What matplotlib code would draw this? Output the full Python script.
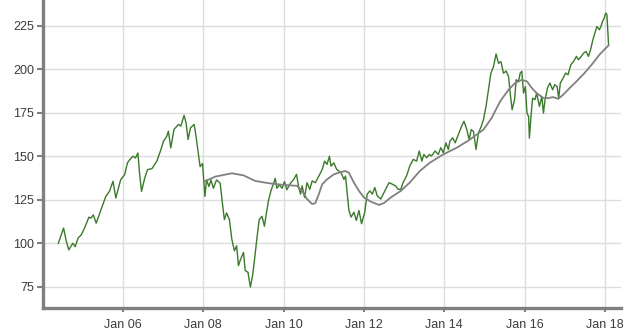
import datetime as dt
import matplotlib
matplotlib.use("Agg")
import matplotlib.pyplot as plt
import matplotlib.dates as mdates

# price series (decimal year, value)
price_t = [2004.39, 2004.52, 2004.59, 2004.65, 2004.75, 2004.81, 2004.88, 2004.96,
           2005.04, 2005.15, 2005.20, 2005.26, 2005.33, 2005.45, 2005.57, 2005.66,
           2005.75, 2005.82, 2005.94, 2006.04, 2006.11, 2006.17, 2006.25, 2006.31,
           2006.37, 2006.41, 2006.46, 2006.54, 2006.61, 2006.72, 2006.84, 2006.93,
           2007.01, 2007.09, 2007.13, 2007.19, 2007.27, 2007.38, 2007.44, 2007.52,
           2007.57, 2007.62, 2007.68, 2007.77, 2007.80, 2007.875, 2007.92, 2007.98,
           2008.04, 2008.08, 2008.14, 2008.19, 2008.25, 2008.33, 2008.42, 2008.475,
           2008.525, 2008.58, 2008.65, 2008.71, 2008.775, 2008.83, 2008.875, 2008.93,
           2009.00, 2009.04, 2009.11, 2009.17, 2009.225, 2009.275, 2009.33, 2009.39,
           2009.46, 2009.52, 2009.57, 2009.625, 2009.69, 2009.75, 2009.79, 2009.83,
           2009.89, 2009.96, 2010.02, 2010.08, 2010.15, 2010.25, 2010.32, 2010.375,
           2010.42, 2010.46, 2010.52, 2010.58, 2010.65, 2010.71, 2010.79, 2010.875,
           2010.96, 2011.02, 2011.08, 2011.14, 2011.18, 2011.25, 2011.32, 2011.375,
           2011.43, 2011.50, 2011.54, 2011.58, 2011.625, 2011.68, 2011.75, 2011.81,
           2011.875, 2011.94, 2012.02, 2012.08, 2012.15, 2012.21, 2012.27, 2012.33,
           2012.42, 2012.50, 2012.54, 2012.625, 2012.71, 2012.79, 2012.85, 2012.92,
           2012.975, 2013.06, 2013.14, 2013.225, 2013.31, 2013.375, 2013.44, 2013.49,
           2013.56, 2013.625, 2013.68, 2013.77, 2013.85, 2013.91, 2013.975, 2014.04,
           2014.10, 2014.14, 2014.21, 2014.27, 2014.35, 2014.43, 2014.49, 2014.56,
           2014.62, 2014.67, 2014.725, 2014.79, 2014.85, 2014.92, 2014.975, 2015.04,
           2015.10, 2015.16, 2015.225, 2015.29, 2015.35, 2015.41, 2015.475, 2015.54,
           2015.60, 2015.65, 2015.69, 2015.75, 2015.79, 2015.85, 2015.89, 2015.93,
           2015.975, 2016.02, 2016.06, 2016.10, 2016.12, 2016.16, 2016.20, 2016.26,
           2016.30, 2016.37, 2016.43, 2016.47, 2016.51, 2016.57, 2016.63, 2016.70,
           2016.75, 2016.81, 2016.85, 2016.89, 2016.96, 2017.02, 2017.08, 2017.15,
           2017.22, 2017.29, 2017.34, 2017.41, 2017.47, 2017.53, 2017.59, 2017.64,
           2017.70, 2017.76, 2017.80, 2017.86, 2017.90, 2017.94, 2017.98, 2018.02,
           2018.05, 2018.07, 2018.09]
price_v = [100.0, 108.7, 101.0, 96.2, 100.0, 98.0, 102.9, 104.8,
           108.7, 115.0, 114.4, 116.3, 111.5, 119.2, 126.9, 129.8,
           135.6, 126.0, 136.5, 139.4, 146.2, 148.1, 150.0, 149.0,
           151.9, 140.4, 129.8, 137.5, 142.3, 142.9, 147.1, 152.9,
           158.7, 161.5, 164.4, 154.8, 165.4, 168.3, 167.3, 173.5,
           169.2, 159.6, 166.3, 168.3, 164.4, 151.5, 144.0, 145.8,
           126.9, 136.4, 132.6, 136.4, 131.6, 136.4, 134.5, 123.1,
           113.6, 117.4, 113.6, 102.3, 95.6, 98.5, 87.1, 90.9,
           94.7, 84.3, 83.3, 74.8, 81.4, 90.9, 102.3, 113.6,
           115.5, 109.8, 117.4, 125.0, 130.7, 134.5, 137.3, 131.6,
           133.5, 131.6, 135.4, 130.7, 133.9, 136.7, 139.6, 132.0,
           128.2, 133.0, 126.3, 134.8, 131.0, 135.8, 134.8, 138.6,
           142.4, 147.2, 145.3, 150.0, 144.3, 146.2, 142.4, 141.5,
           140.5, 136.7, 138.6, 129.2, 118.8, 115.0, 117.8, 113.1,
           118.8, 111.2, 117.8, 128.2, 130.1, 128.2, 132.0, 127.3,
           125.4, 129.2, 131.0, 134.8, 133.9, 132.9, 131.0, 131.0,
           134.9, 138.7, 144.4, 148.2, 147.2, 153.0, 147.2, 151.0,
           149.1, 151.0, 150.1, 153.0, 151.0, 154.9, 152.0, 157.7,
           153.9, 158.7, 160.6, 157.7, 162.5, 167.2, 170.1, 165.3,
           159.6, 165.3, 164.4, 153.9, 163.4, 167.2, 171.0, 178.7,
           188.2, 197.7, 201.5, 208.8, 203.4, 204.4, 197.7, 199.0,
           195.8, 184.4, 176.7, 182.5, 194.0, 193.0, 197.8, 198.8,
           186.3, 190.1, 174.8, 172.9, 160.4, 172.9, 183.4, 182.5,
           186.3, 178.6, 184.4, 174.8, 182.5, 189.2, 192.1, 188.2,
           191.1, 190.1, 183.4, 192.1, 194.9, 197.8, 196.8, 202.6,
           204.5, 207.4, 205.5, 207.4, 209.3, 210.2, 207.4, 211.2,
           217.0, 221.7, 224.6, 222.7, 224.6, 227.5, 229.4, 232.3,
           231.3, 222.7, 214.1]

# smoothed average line
avg_t = [2008.04, 2008.30, 2008.71, 2009.00, 2009.29, 2009.625, 2010.00, 2010.33,
         2010.46, 2010.58, 2010.71, 2010.79, 2010.875, 2010.96, 2011.08, 2011.25,
         2011.42, 2011.54, 2011.625, 2011.75, 2011.875, 2012.00, 2012.17, 2012.375,
         2012.50, 2012.67, 2012.92, 2013.14, 2013.39, 2013.64, 2013.97, 2014.31,
         2014.64, 2014.975, 2015.18, 2015.39, 2015.60, 2015.76, 2015.93, 2016.06,
         2016.18, 2016.30, 2016.47, 2016.59, 2016.71, 2016.84, 2016.96, 2017.12,
         2017.29, 2017.49, 2017.70, 2017.86, 2017.98, 2018.09]
avg_v = [135.6, 138.3, 140.2, 139.0, 135.8, 134.5, 133.5, 133.0,
         130.1, 125.4, 122.5, 123.1, 128.2, 133.9, 136.7, 139.6,
         140.9, 141.5, 140.5, 134.8, 130.1, 126.3, 123.9, 122.0,
         123.1, 126.3, 130.1, 134.9, 141.5, 146.3, 151.0, 154.9,
         159.6, 165.3, 172.0, 181.5, 188.2, 192.0, 193.9, 193.0,
         189.2, 186.3, 183.4, 183.4, 184.0, 183.0, 185.3, 189.2,
         193.0, 197.8, 203.5, 208.3, 211.2, 213.7]

y_ticks = [75, 100, 125, 150, 175, 200, 225]
x_tick_years = [2006, 2008, 2010, 2012, 2014, 2016, 2018]


def to_date(t):
    year = int(t)
    return dt.datetime(year, 1, 1) + dt.timedelta(days=(t - year) * 365.25)


fig = plt.figure(figsize=(6.3, 3.34), dpi=100)
ax = fig.add_axes([42.5 / 630, 1 - 307.5 / 334, (621 - 42.5) / 630, 307.5 / 334])

ax.plot([to_date(t) for t in price_t], price_v, color="#3a7a2a", lw=1.0, zorder=3)
ax.plot([to_date(t) for t in avg_t], avg_v, color="#808080", lw=1.3, zorder=4)

ax.set_xlim(to_date(2003.995), to_date(2018.40))
ax.set_ylim(63.05, 239.8)

ax.set_yticks(y_ticks)
ax.set_xticks([dt.datetime(y, 1, 1) for y in x_tick_years])
ax.xaxis.set_major_formatter(mdates.DateFormatter("%b %y"))

ax.grid(True, color="#dddddd", lw=1)
ax.set_axisbelow(True)

for side in ["top", "right"]:
    ax.spines[side].set_visible(False)
for side in ["left", "bottom"]:
    ax.spines[side].set_color("#808080")
    ax.spines[side].set_linewidth(2.4)

ax.tick_params(axis="y", length=4, width=1.5, color="#808080", pad=2,
               labelsize=9, labelcolor="#3c3c3c")
ax.tick_params(axis="x", length=3, width=1.5, color="#808080", pad=5,
               labelsize=9, labelcolor="#3c3c3c")
for lab in ax.get_xticklabels() + ax.get_yticklabels():
    lab.set_family("Liberation Sans")

fig.savefig("out.png", dpi=100)
